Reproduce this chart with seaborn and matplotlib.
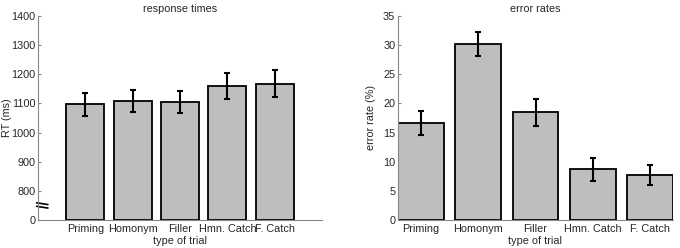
import matplotlib
matplotlib.use("Agg")
import matplotlib.pyplot as plt
import matplotlib.transforms as mtransforms
import seaborn as sns
import pandas as pd

categories = ["Priming", "Homonym", "Filler", "Hmn. Catch", "F. Catch"]
rt_mean = [1097, 1109, 1106, 1159, 1167]
rt_err = [40, 38, 38, 44, 46]
err_mean = [16.6, 30.25, 18.5, 8.7, 7.7]
err_err = [2.05, 2.05, 2.3, 2.0, 1.7]
rt_ticks = [700, 800, 900, 1000, 1100, 1200, 1300, 1400]
rt_ticklabels = ["0", "800", "900", "1000", "1100", "1200", "1300", "1400"]
err_ticks = [0, 5, 10, 15, 20, 25, 30, 35]

sns.set_style("white")
plt.rcParams["font.family"] = ["Liberation Sans", "DejaVu Sans"]
FS = 7.8
plt.rcParams["font.size"] = FS

fig = plt.figure(figsize=(6.8, 2.48), dpi=100)
W, H = 680, 248
ax1 = fig.add_axes([38 / W, 1 - 220 / H, (322 - 38) / W, (220 - 16) / H])
ax2 = fig.add_axes([398 / W, 1 - 220 / H, (673 - 398) / W, (220 - 16) / H])

df_rt = pd.DataFrame({"trial": categories, "val": rt_mean})
df_er = pd.DataFrame({"trial": categories, "val": err_mean})

bar_kw = dict(color="#bebebe", edgecolor="black", linewidth=1.3, width=0.8,
              errorbar=None, saturation=1)

sns.barplot(data=df_rt, x="trial", y="val", ax=ax1, **bar_kw)
sns.barplot(data=df_er, x="trial", y="val", ax=ax2, **bar_kw)

# bars in RT panel start from the broken-axis baseline (700)
for p, v in zip(ax1.patches, rt_mean):
    p.set_y(700)
    p.set_height(v - 700)

ax1.errorbar(range(len(categories)), rt_mean, yerr=rt_err, fmt="none",
             ecolor="black", elinewidth=1.5, capsize=2, capthick=1.5)
ax2.errorbar(range(len(categories)), err_mean, yerr=err_err, fmt="none",
             ecolor="black", elinewidth=1.5, capsize=2, capthick=1.5)

ax1.set_ylim(700, 1400)
ax1.set_xlim(-1, 5)
ax1.set_yticks(rt_ticks)
ax1.set_yticklabels(rt_ticklabels)
ax2.set_ylim(0, 35)
ax2.set_xlim(-0.4, 4.4)
ax2.set_yticks(err_ticks)

for ax, title, ylabel in [(ax1, "response times", "RT (ms)"),
                          (ax2, "error rates", "error rate (%)")]:
    ax.set_title(title, fontsize=FS, pad=3)
    ax.set_ylabel(ylabel, fontsize=FS)
    ax.set_xlabel("type of trial", fontsize=FS, labelpad=1)
    for s in ["top", "right"]:
        ax.spines[s].set_visible(False)
    for s in ["left", "bottom"]:
        ax.spines[s].set_color("#888888")
        ax.spines[s].set_linewidth(0.8)
    ax.tick_params(axis="y", direction="in", length=2.5, color="#888888",
                   labelsize=FS, pad=2, left=True)
    ax.tick_params(axis="x", length=0, labelsize=FS, pad=3)

ax1.yaxis.set_label_coords((12 - 38) / (322 - 38), 0.5)
ax2.yaxis.set_label_coords((376 - 398) / (673 - 398), 0.5)

# axis break marker
tr = mtransforms.blended_transform_factory(ax1.transAxes, ax1.transData)
for dy in (-6, 6):
    ax1.plot([-0.005, 0.035], [750 + dy + 3, 750 + dy - 3], color="black",
             lw=1.2, transform=tr, clip_on=False)

fig.savefig("out.png", dpi=100)
